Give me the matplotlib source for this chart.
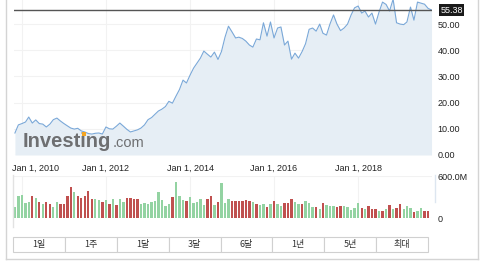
import matplotlib
matplotlib.use("Agg")
import matplotlib.pyplot as plt
import matplotlib.dates as mdates
from matplotlib.transforms import ScaledTranslation
from matplotlib.patches import Rectangle
from matplotlib.lines import Line2D
import datetime as dt

# ---------------- data ----------------
start_year, start_month = 2009, 11
price = [8.4, 11.5, 12.0, 12.6, 14.5, 12.2, 13.4, 12.0, 11.8, 10.7, 11.8, 13.5,
         14.1, 13.0, 12.0, 11.1, 10.3, 9.9, 10.2, 9.2, 8.8, 8.2, 8.0, 8.3,
         8.4, 8.0, 10.7, 10.0, 9.9, 11.0, 12.2, 11.0, 9.8, 8.8, 9.2, 9.6,
         10.3, 11.5, 13.5, 14.3, 15.5, 16.8, 17.5, 18.5, 20.5, 19.8, 22.5, 25.0,
         28.6, 27.5, 30.5, 33.2, 35.0, 37.0, 39.7, 38.5, 37.4, 39.3, 36.5, 39.5,
         45.0, 49.2, 47.0, 44.7, 45.0, 44.5, 43.5, 42.0, 41.2, 44.3, 44.0, 50.5,
         45.4, 50.8, 44.7, 48.5, 48.9, 42.0, 43.5, 36.6, 38.9, 37.0, 39.5, 42.5,
         48.0, 48.5, 47.3, 50.0, 46.5, 45.8, 50.0, 53.5, 50.0, 47.5, 48.5, 50.0,
         53.5, 56.2, 56.9, 54.2, 55.0, 52.7, 54.2, 50.0, 54.5, 58.4, 57.5, 55.0,
         59.5, 50.5, 50.0, 49.8, 50.8, 56.5, 51.5, 58.4, 58.0, 57.6, 56.0, 55.38]

volume = [164, 319, 333, 211, 230, 314, 291, 234, 206, 230, 197, 164,
          225, 206, 197, 319, 441, 366, 319, 291, 319, 394, 267, 267,
          263, 230, 258, 197, 267, 188, 272, 225, 291, 291, 267, 272,
          206, 211, 200, 225, 244, 370, 258, 178, 202, 300, 516, 314,
          258, 244, 296, 220, 230, 272, 188, 277, 310, 192, 225, 497,
          220, 267, 239, 249, 249, 249, 258, 249, 225, 206, 192, 206,
          159, 206, 239, 206, 178, 216, 211, 277, 225, 206, 206, 239,
          211, 164, 164, 131, 220, 192, 174, 178, 159, 174, 169, 164,
          117, 141, 220, 150, 131, 174, 136, 136, 103, 103, 127, 188,
          127, 145, 206, 127, 174, 150, 84, 103, 150, 108, 103]
up = ("gggggrgrgrrggrrrrgrrrrrggrgrgrggrrrrggg"
      "ggggggrgggrgggggrrgrgggrrrrrrgrggrgrggrrrggrgg"
      "grgrgggrrgggggrgrrrgrgrgrrgggrggrr")

last_price = 55.38
price_ticks = [0, 10, 20, 30, 40, 50]
date_ticks = [2010, 2012, 2014, 2016, 2018]
vol_ticks = [0, 600]
vol_tick_labels = ["0", "600.0M"]
buttons = ["1일", "1주", "1달", "3달", "6달", "1년", "5년", "최대"]


def month_date(i):
    m = start_month - 1 + i
    return dt.date(start_year + m // 12, m % 12 + 1, 1)


dates = [month_date(i) for i in range(len(price))]
vdates = dates[:len(volume)]
vcolors = ['#93d3a2' if c == 'g' else '#c0504f' for c in up[:len(volume)]]

# ---------------- figure ----------------
W, H = 480, 270
fig = plt.figure(figsize=(4.8, 2.7), dpi=100)
fig.patch.set_facecolor('white')
plt.rcParams['font.family'] = ['Liberation Sans', 'Noto Sans CJK KR', 'DejaVu Sans']


def fbox(x0, y0, x1, y1):
    return [x0 / W, 1 - y1 / H, (x1 - x0) / W, (y1 - y0) / H]


xlim = (mdates.date2num(dt.date(2009, 10, 24)), mdates.date2num(dt.date(2019, 10, 5)))

# price axes
ax = fig.add_axes(fbox(14, 0, 432, 155))
ax.set_xlim(xlim)
ax.set_ylim(0, 59.2)
ax.fill_between(dates, price, 0, color='#e6eef5', lw=0, zorder=1)
ax.plot(dates, price, color='#7aa8d8', lw=0.8, zorder=3)
ax.axhline(last_price, color='#555555', lw=1.0, zorder=4)
for s in ax.spines.values():
    s.set_visible(False)
ax.set_yticks(price_ticks)
ax.set_yticklabels([f"{v:.2f}" for v in price_ticks], fontsize=6.5, color='#222222')
ax.yaxis.tick_right()
ax.tick_params(axis='y', length=0, pad=4)
xt = [mdates.date2num(dt.date(y, 1, 1)) for y in date_ticks]
ax.set_xticks(xt)
ax.set_xticklabels([f"Jan 1, {y}" for y in date_ticks], fontsize=6.5, color='#222222')
ax.tick_params(axis='x', length=0, pad=6)
lbls = ax.get_xticklabels()
lbls[0].set_transform(lbls[0].get_transform() + ScaledTranslation(14 / 100, 0, fig.dpi_scale_trans))
ax.grid(True, color='#f2f2f2', lw=0.8, zorder=0)
ax.set_axisbelow(True)
ax.annotate(f"{last_price:.2f}", xy=(1, last_price), xycoords=('axes fraction', 'data'),
            xytext=(6, 0), textcoords='offset points', ha='left', va='center',
            fontsize=6.5, color='white',
            bbox=dict(boxstyle='square,pad=0.15', fc='#1a1a1a', ec='none'),
            annotation_clip=False)

# watermark
fig.text(23 / W, 1 - 147 / H, "Investing", fontsize=14.5, fontweight='bold',
         color='#6e6f71', ha='left', va='baseline', zorder=10)
fig.text(112.5 / W, 1 - 147 / H, ".com", fontsize=10.5, color='#6e6f71',
         ha='left', va='baseline', zorder=10)
fig.add_artist(Rectangle((82.2 / W, 1 - 135.8 / H), 3.4 / W, 3.4 / H,
                         transform=fig.transFigure, fc='#f5a623', ec='none', zorder=11))

# volume axes
vax = fig.add_axes(fbox(14, 176, 432, 218.3))
vax.set_xlim(xlim)
vax.set_ylim(0, 600)
vax.bar(vdates, volume, width=20, color=vcolors, lw=0, zorder=2)
for s in vax.spines.values():
    s.set_visible(False)
vax.set_yticks(vol_ticks)
vax.set_yticklabels(vol_tick_labels, fontsize=6.5, color='#222222')
vax.yaxis.tick_right()
vax.tick_params(axis='y', length=0, pad=4)
vax.set_xticks(xt)
vax.set_xticklabels([])
vax.tick_params(axis='x', length=0)
vax.grid(True, color='#f2f2f2', lw=0.8, zorder=0)
vax.set_axisbelow(True)

# frame and separators
def fline(x0, y0, x1, y1, color, lw=1.0):
    fig.add_artist(Line2D([x0 / W, x1 / W], [1 - y0 / H, 1 - y1 / H], color=color, lw=lw))

fline(5.5, 0, 5.5, 259, '#d4d4d4')
fline(5.5, 259, 478, 259, '#d4d4d4')
fline(478, 0, 478, 259, '#d4d4d4')
fline(13, 175, 13, 227, '#e2e2e2')
fline(434.5, 175, 434.5, 202, '#dde6f0')

# range buttons
bx0, bx1, by0, by1 = 13, 428, 237, 252
bw = (bx1 - bx0) / len(buttons)
for i, b in enumerate(buttons):
    x0 = bx0 + i * bw
    fig.add_artist(Rectangle((x0 / W, 1 - by1 / H), bw / W, (by1 - by0) / H,
                             transform=fig.transFigure, fc='white', ec='#d0d0d0', lw=0.8))
    fig.text((x0 + bw / 2) / W, 1 - (by0 + by1) / 2 / H, b, fontsize=6.5,
             color='#333333', ha='center', va='center',
             family=['Noto Sans CJK KR', 'DejaVu Sans'])

fig.savefig("out.png", dpi=100)
